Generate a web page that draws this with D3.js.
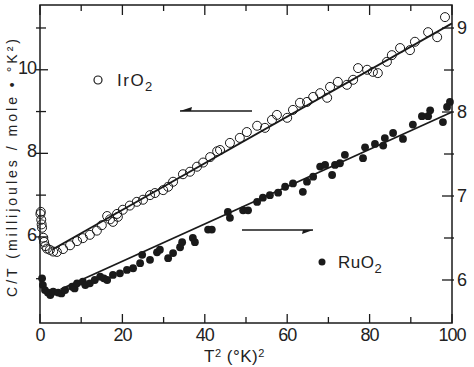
<!DOCTYPE html>
<html>
<head>
<meta charset="utf-8">
<script src="https://cdn.jsdelivr.net/npm/d3@7"></script>
<style>
  body { margin: 0; background: #fff; }
  svg { display: block; }
  text { font-family: "Liberation Sans", "DejaVu Sans", sans-serif; fill: #222; }
</style>
</head>
<body>
<script>
// IrO2 points, read against the left axis: [T^2, C/T]
var irO2Points = [
  [0.1, 6.55], [0.2, 6.6], [0.3, 6.41], [0.4, 6.3], [0.5, 6.22], [0.8, 5.98], [1.0, 5.88],
  [1.3, 5.78], [1.7, 5.72], [2.4, 5.69], [3.2, 5.65], [4.1, 5.64], [5.6, 5.71], [7.3, 5.8],
  [9.0, 5.9], [10.4, 5.97], [12.1, 6.05], [13.8, 6.15], [15.0, 6.28], [16.3, 6.5], [17.0, 6.42],
  [17.7, 6.36], [18.7, 6.55], [18.9, 6.48], [20.1, 6.65], [21.8, 6.75], [23.5, 6.84], [25.0, 6.89],
  [26.7, 7.0], [27.9, 7.05], [29.9, 7.12], [31.1, 7.2], [32.3, 7.32], [34.7, 7.5], [36.4, 7.56],
  [38.1, 7.68], [39.6, 7.78], [41.3, 7.91], [43.0, 8.05], [43.7, 8.08], [46.1, 8.25], [48.5, 8.37],
  [50.2, 8.51], [52.7, 8.66], [54.6, 8.61], [56.3, 8.8], [57.5, 8.92], [60.0, 8.85], [61.4, 9.04],
  [63.1, 9.21], [64.8, 9.23], [66.3, 9.35], [68.0, 9.44], [69.7, 9.33], [70.4, 9.59], [72.3, 9.71],
  [74.5, 9.64], [76.0, 9.76], [77.2, 10.04], [79.4, 10.0], [80.8, 9.95], [82.0, 9.92], [84.2, 10.19],
  [85.4, 10.35], [87.4, 10.52], [89.8, 10.47], [91.0, 10.67], [94.2, 10.9], [96.4, 10.78], [98.3, 11.26]
];
// RuO2 points, read against the right axis: [T^2, C/T]
var ruO2Points = [
  [0.5, 6.02], [0.7, 5.94], [1.2, 5.88], [1.9, 5.85], [2.5, 5.82], [3.2, 5.86], [4.4, 5.85],
  [5.2, 5.84], [6.1, 5.88], [7.8, 5.92], [8.4, 5.9], [9.0, 5.96], [10.4, 5.98], [11.0, 5.94],
  [12.1, 5.96], [13.3, 6.0], [14.6, 6.04], [15.5, 6.02], [16.3, 6.0], [17.7, 6.06], [19.4, 6.08],
  [21.1, 6.12], [22.6, 6.14], [24.3, 6.2], [24.8, 6.3], [26.7, 6.24], [28.4, 6.33], [29.1, 6.36],
  [31.1, 6.26], [32.3, 6.32], [34.0, 6.39], [34.5, 6.45], [37.1, 6.5], [37.6, 6.45], [40.8, 6.6],
  [41.7, 6.6], [45.6, 6.81], [46.1, 6.74], [49.3, 6.83], [50.5, 6.83], [52.7, 6.93], [54.1, 6.98],
  [55.8, 7.01], [57.8, 7.04], [59.5, 7.11], [61.4, 7.15], [63.8, 7.05], [64.8, 7.17], [66.3, 7.23],
  [68.0, 7.35], [69.2, 7.37], [70.9, 7.25], [71.6, 7.37], [72.8, 7.39], [74.0, 7.49], [78.4, 7.45],
  [78.9, 7.58], [81.3, 7.62], [83.3, 7.6], [83.7, 7.69], [85.7, 7.75], [88.1, 7.68], [90.5, 7.85],
  [92.7, 7.95], [94.2, 7.95], [94.7, 8.02], [97.8, 7.88], [98.8, 8.06], [99.5, 8.12]
];
// straight fitted lines, end points
var irO2Fit = [[3, 5.70], [100, 11.11]];
var ruO2Fit = [[5, 5.89], [100, 8.0]];

var xTicks = [0, 10, 20, 30, 40, 50, 60, 70, 80, 90, 100];
var xLabels = [0, 20, 40, 60, 80, 100];
var leftTicks = [5, 6, 7, 8, 9, 10, 11];
var leftLabels = [6, 8, 10];
var rightTicks = [6, 6.5, 7, 7.5, 8, 8.5, 9];
var rightLabels = [6, 7, 8, 9];

window.onload = function(){
    var w = 474, h = 367;
    var svg = d3.select("body").append("svg")
        .attr("width", w)
        .attr("height", h);

    var x = d3.scaleLinear().domain([0, 100]).range([40, 452]);
    var yL = d3.scaleLinear().domain([3.94, 11.55]).range([323, 5]);
    var yR = d3.scaleLinear().domain([5.488, 9.274]).range([323, 5]);
    var ink = "#1a1a1a";

//frame
    svg.append("rect")
        .attr("x", 40).attr("y", 5)
        .attr("width", 412).attr("height", 318)
        .attr("fill", "none")
        .attr("stroke", ink)
        .attr("stroke-width", 1.5);

//bottom and top ticks, pointing inward
    svg.selectAll(".xtick")
        .data(xTicks)
        .enter()
        .append("line")
        .attr("class", "xtick")
        .attr("x1", function(d){ return x(d); })
        .attr("x2", function(d){ return x(d); })
        .attr("y1", 323)
        .attr("y2", function(d){ return d % 20 === 0 ? 314 : 317; })
        .attr("stroke", ink).attr("stroke-width", 1.3);
    svg.selectAll(".xtickTop")
        .data(xTicks)
        .enter()
        .append("line")
        .attr("class", "xtickTop")
        .attr("x1", function(d){ return x(d); })
        .attr("x2", function(d){ return x(d); })
        .attr("y1", 5)
        .attr("y2", function(d){ return d % 20 === 0 ? 15 : 11; })
        .attr("stroke", ink).attr("stroke-width", 1.3);
    svg.selectAll(".xlabel")
        .data(xLabels)
        .enter()
        .append("text")
        .attr("class", "xlabel")
        .attr("x", function(d){ return x(d); })
        .attr("y", 341)
        .attr("text-anchor", "middle")
        .style("font-size", "18px")
        .style("letter-spacing", "-1px")
        .text(function(d){ return d; });

//left axis (IrO2)
    svg.selectAll(".ltick")
        .data(leftTicks)
        .enter()
        .append("line")
        .attr("class", "ltick")
        .attr("x1", 36)
        .attr("x2", function(d){ return d % 2 === 0 ? 48 : 46; })
        .attr("y1", function(d){ return yL(d); })
        .attr("y2", function(d){ return yL(d); })
        .attr("stroke", ink).attr("stroke-width", 1.3);
    svg.selectAll(".llabel")
        .data(leftLabels)
        .enter()
        .append("text")
        .attr("class", "llabel")
        .attr("x", 36)
        .attr("y", function(d){ return yL(d) + 4; })
        .attr("text-anchor", "end")
        .style("font-size", "18px")
        .style("letter-spacing", "-1px")
        .text(function(d){ return d; });

//right axis (RuO2)
    svg.selectAll(".rtick")
        .data(rightTicks)
        .enter()
        .append("line")
        .attr("class", "rtick")
        .attr("x1", function(d){ return d % 1 === 0 ? 442 : 444; })
        .attr("x2", 454)
        .attr("y1", function(d){ return yR(d); })
        .attr("y2", function(d){ return yR(d); })
        .attr("stroke", ink).attr("stroke-width", 1.3);
    svg.selectAll(".rlabel")
        .data(rightLabels)
        .enter()
        .append("text")
        .attr("class", "rlabel")
        .attr("x", 457)
        .attr("y", function(d){ return yR(d) + 6; })
        .style("font-size", "18px")
        .text(function(d){ return d; });

//axis titles
    svg.append("text")
        .attr("transform", "translate(17,168) rotate(-90)")
        .attr("text-anchor", "middle")
        .attr("textLength", 258)
        .attr("lengthAdjust", "spacing")
        .style("font-size", "14px")
        .text("C/T (millijoules / mole \u2022 \u00b0K\u00b2)");
    var xt = svg.append("text")
        .attr("x", 204)
        .attr("y", 362)
        .style("font-size", "17px")
        .style("letter-spacing", "0.5px");
    xt.append("tspan").text("T");
    xt.append("tspan").attr("dy", -5).style("font-size", "11px").text("2");
    xt.append("tspan").attr("dy", 5).text(" (\u00b0K)");
    xt.append("tspan").attr("dy", -5).style("font-size", "11px").text("2");

//fitted lines
    var lineL = d3.line()
        .x(function(d){ return x(d[0]); })
        .y(function(d){ return yL(d[1]); });
    var lineR = d3.line()
        .x(function(d){ return x(d[0]); })
        .y(function(d){ return yR(d[1]); });
    svg.append("path").datum(irO2Fit)
        .attr("d", lineL)
        .attr("fill", "none").attr("stroke", ink).attr("stroke-width", 1.8);
    svg.append("path").datum(ruO2Fit)
        .attr("d", lineR)
        .attr("fill", "none").attr("stroke", ink).attr("stroke-width", 1.8);

//data points
    svg.selectAll(".ir")
        .data(irO2Points)
        .enter()
        .append("circle")
        .attr("class", "ir")
        .attr("cx", function(d){ return x(d[0]); })
        .attr("cy", function(d){ return yL(d[1]); })
        .attr("r", 4.5)
        .attr("fill", "none")
        .attr("stroke", ink)
        .attr("stroke-width", 1);
    svg.selectAll(".ru")
        .data(ruO2Points)
        .enter()
        .append("circle")
        .attr("class", "ru")
        .attr("cx", function(d){ return x(d[0]); })
        .attr("cy", function(d){ return yR(d[1]); })
        .attr("r", 3.9)
        .attr("fill", ink);

//legend labels and arrows
    svg.append("circle")
        .attr("cx", 98).attr("cy", 80).attr("r", 4)
        .attr("fill", "none").attr("stroke", ink).attr("stroke-width", 1.2);
    var irLab = svg.append("text").attr("x", 117).attr("y", 86)
        .style("font-size", "17px").style("letter-spacing", "1.5px");
    irLab.append("tspan").text("IrO");
    irLab.append("tspan").attr("dy", 5).style("font-size", "13px").text("2");

    svg.append("circle")
        .attr("cx", 322).attr("cy", 262).attr("r", 3.5)
        .attr("fill", ink);
    var ruLab = svg.append("text").attr("x", 338).attr("y", 268)
        .style("font-size", "17px").style("letter-spacing", "0.5px");
    ruLab.append("tspan").text("RuO");
    ruLab.append("tspan").attr("dy", 5).style("font-size", "13px").text("2");

    svg.append("line")
        .attr("x1", 180).attr("x2", 252).attr("y1", 111).attr("y2", 111)
        .attr("stroke", ink).attr("stroke-width", 1.6);
    svg.append("path")
        .attr("d", "M180,111 L192,107 L191,111 Z")
        .attr("fill", ink);
    svg.append("line")
        .attr("x1", 242).attr("x2", 313).attr("y1", 230).attr("y2", 230)
        .attr("stroke", ink).attr("stroke-width", 1.6);
    svg.append("path")
        .attr("d", "M313,230 L302,234 L303,230 Z")
        .attr("fill", ink);
};
</script>
</body>
</html>
